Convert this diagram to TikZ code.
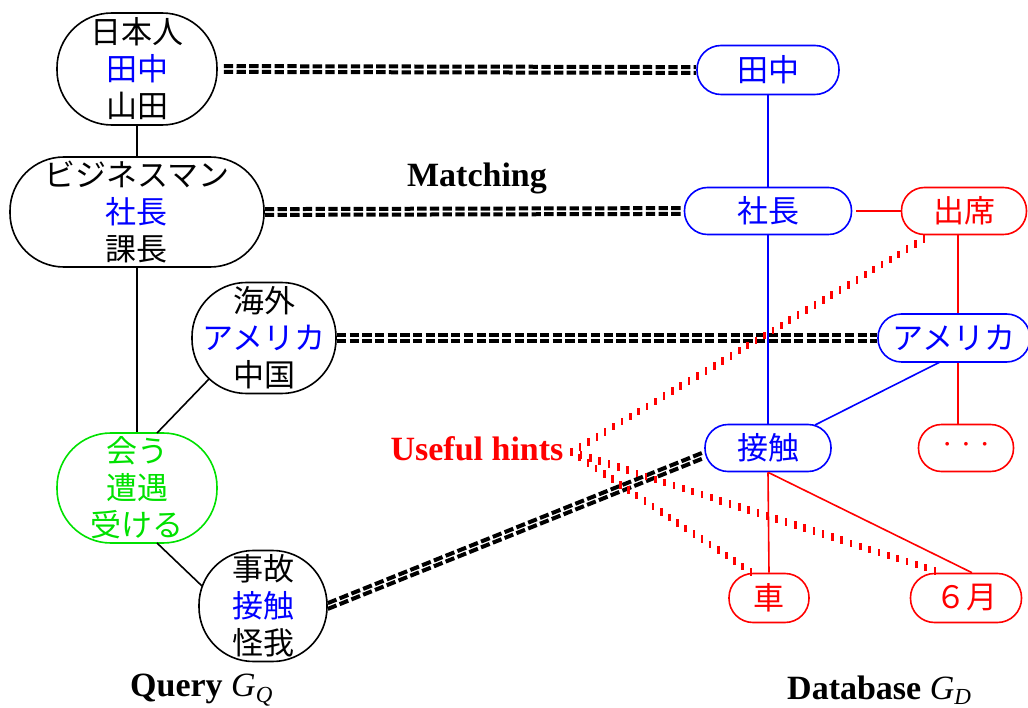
\documentclass[tikz,border=0pt]{standalone}
\usepackage{fontspec}
\setmainfont{Liberation Serif}
\newfontfamily\jp{Noto Sans CJK JP}
\usetikzlibrary{calc,decorations.markings}
\definecolor{qgreen}{RGB}{0,225,0}
\definecolor{dblue}{RGB}{0,0,255}
\definecolor{dred}{RGB}{255,0,0}
\begin{document}
\begin{tikzpicture}[x=1pt,y=-1pt,
  every node/.style={inner sep=0pt, align=center},
  jtext/.style={font=\jp\fontsize{31}{37}\selectfont},
  pill/.style 2 args={jtext, draw, line width=1.6pt, minimum width=#1pt, minimum height=#2pt, rounded corners=#2*0.49pt},
  qbox/.style={draw=black, text=black},
  bbox/.style={draw=dblue, text=dblue},
  rbox/.style={draw=dred, text=dred},
  gbox/.style={draw=qgreen, text=qgreen},
  link/.style={line width=1.6pt},
  match/.style={draw=black, line width=4pt, line cap=butt, dash pattern=on 9.3pt off 3.4pt},
  hint/.style={postaction={decorate}, decoration={markings, mark=between positions 0 and 1 step 9.8pt with {\pgftransformresetnontranslations\fill[dred] (-1.3pt,-3.8pt) rectangle (1.3pt,3.8pt);}}},
  lbl/.style={font=\fontsize{34}{40}\selectfont\bfseries}
]
\useasboundingbox (0,0) rectangle (1028,708);

% Query graph
\node[pill={160}{112}, qbox] (q1) at (137,69) {日本人\\{\color{dblue}田中}\\山田};
\node[pill={254}{110}, qbox] (q2) at (137,212) {ビジネスマン\\{\color{dblue}社長}\\課長};
\node[pill={144}{111}, qbox] (q3) at (264,338) {海外\\{\color{dblue}アメリカ}\\中国};
\node[pill={160}{110}, gbox] (q4) at (137,488) {会う\\遭遇\\受ける};
\node[pill={128}{111}, qbox] (q5) at (263,606) {事故\\{\color{dblue}接触}\\怪我};

% Database graph
\node[pill={142}{49}, bbox] (d1) at (768,70) {田中};
\node[pill={167}{47}, bbox] (d2) at (768,211) {社長};
\node[pill={125}{47}, rbox] (d3) at (964,211) {出席};
\node[pill={152}{48}, bbox] (d4) at (954,338) {アメリカ};
\node[pill={126}{47}, bbox] (d5) at (768,448) {接触};
\node[pill={95}{47}, rbox] (d6) at (966,448) {{\rmfamily ·\hspace{8.5pt}·\hspace{8.5pt}·}};
\node[pill={80}{49}, rbox] (d7) at (769,598) {車};
\node[pill={111}{49}, rbox] (d8) at (966,598) {６月};

% labels
\node[lbl] (mt) at (477,178) {Matching};
\node[lbl, text=dred] (hints) at (477,449) {Useful hints};
\node[lbl, anchor=west] (gq) at (130,690) {Query \textmd{\textit{G}\raisebox{-0.35ex}{\fontsize{23}{23}\selectfont\textit{Q}}}};
\node[lbl, anchor=west] (gd) at (787,690) {Database \textmd{\textit{G}\raisebox{-0.35ex}{\fontsize{23}{23}\selectfont\textit{D}}}};

% matching lines (two parallel dashed strokes each)
\draw[match] ($(q1.east)+(6,-2.9)$) -- ($(d1.west)+(0,-2.9)$);
\draw[match] ($(q1.east)+(6,2.9)$) -- ($(d1.west)+(0,2.9)$);
\draw[match] ($(q2.east)+(0,-2.9)$) -- ($(d2.west)+(0,-2.9)$);
\draw[match] ($(q2.east)+(0,2.9)$) -- ($(d2.west)+(0,2.9)$);
\draw[match] ($(q3.east)+(0,-2.9)$) -- ($(d4.west)+(0,-2.9)$);
\draw[match] ($(q3.east)+(0,2.9)$) -- ($(d4.west)+(0,2.9)$);
\draw[match] ($(q5.east)+(0,-2.9)$) -- ($(d5.west)+(0,4.1)$);
\draw[match] ($(q5.east)+(0,2.9)$) -- ($(d5.west)+(0,9.9)$);

% query edges
\draw[link] (q1.south) -- (q2.north);
\draw[link] (q2.south) -- (q4.north);
\draw[link] ($(q3.center)+(-55,41)$) -- ($(q4.center)+(20,-55)$);
\draw[link] ($(q4.center)+(20,55)$) -- ($(q5.center)+(-61,-20)$);

% database edges
\draw[link, dblue] (d1.south) -- (d2.north);
\draw[link, dblue] (d2.south) -- (d5.north);
\draw[link, dred] ($(d2.east)+(4,0)$) -- (d3.west);
\draw[link, dred] ($(d3.south)+(-6,0)$) -- ($(d4.north)+(4,0)$);
\draw[link, dblue] ($(d4.center)+(-14,24)$) -- ($(d5.center)+(47,-23)$);
\draw[link, dred] ($(d4.south)+(4,0)$) -- ($(d6.north)+(-8,0)$);
\draw[link, dred] (d5.south) -- (d7.north);
\draw[link, dred] (d5.south) -- ($(d8.north)+(6,0)$);

% useful hints
\coordinate (hs) at ($(hints.east)+(8,3)$);
\path[hint] (hs) -- ($(d3.south)+(-37,2)$);
\path[hint] (hs) -- ($(d7.north)+(-17,0)$);
\path[hint] (hs) -- ($(d8.north)+(-25,0)$);
\end{tikzpicture}
\end{document}
